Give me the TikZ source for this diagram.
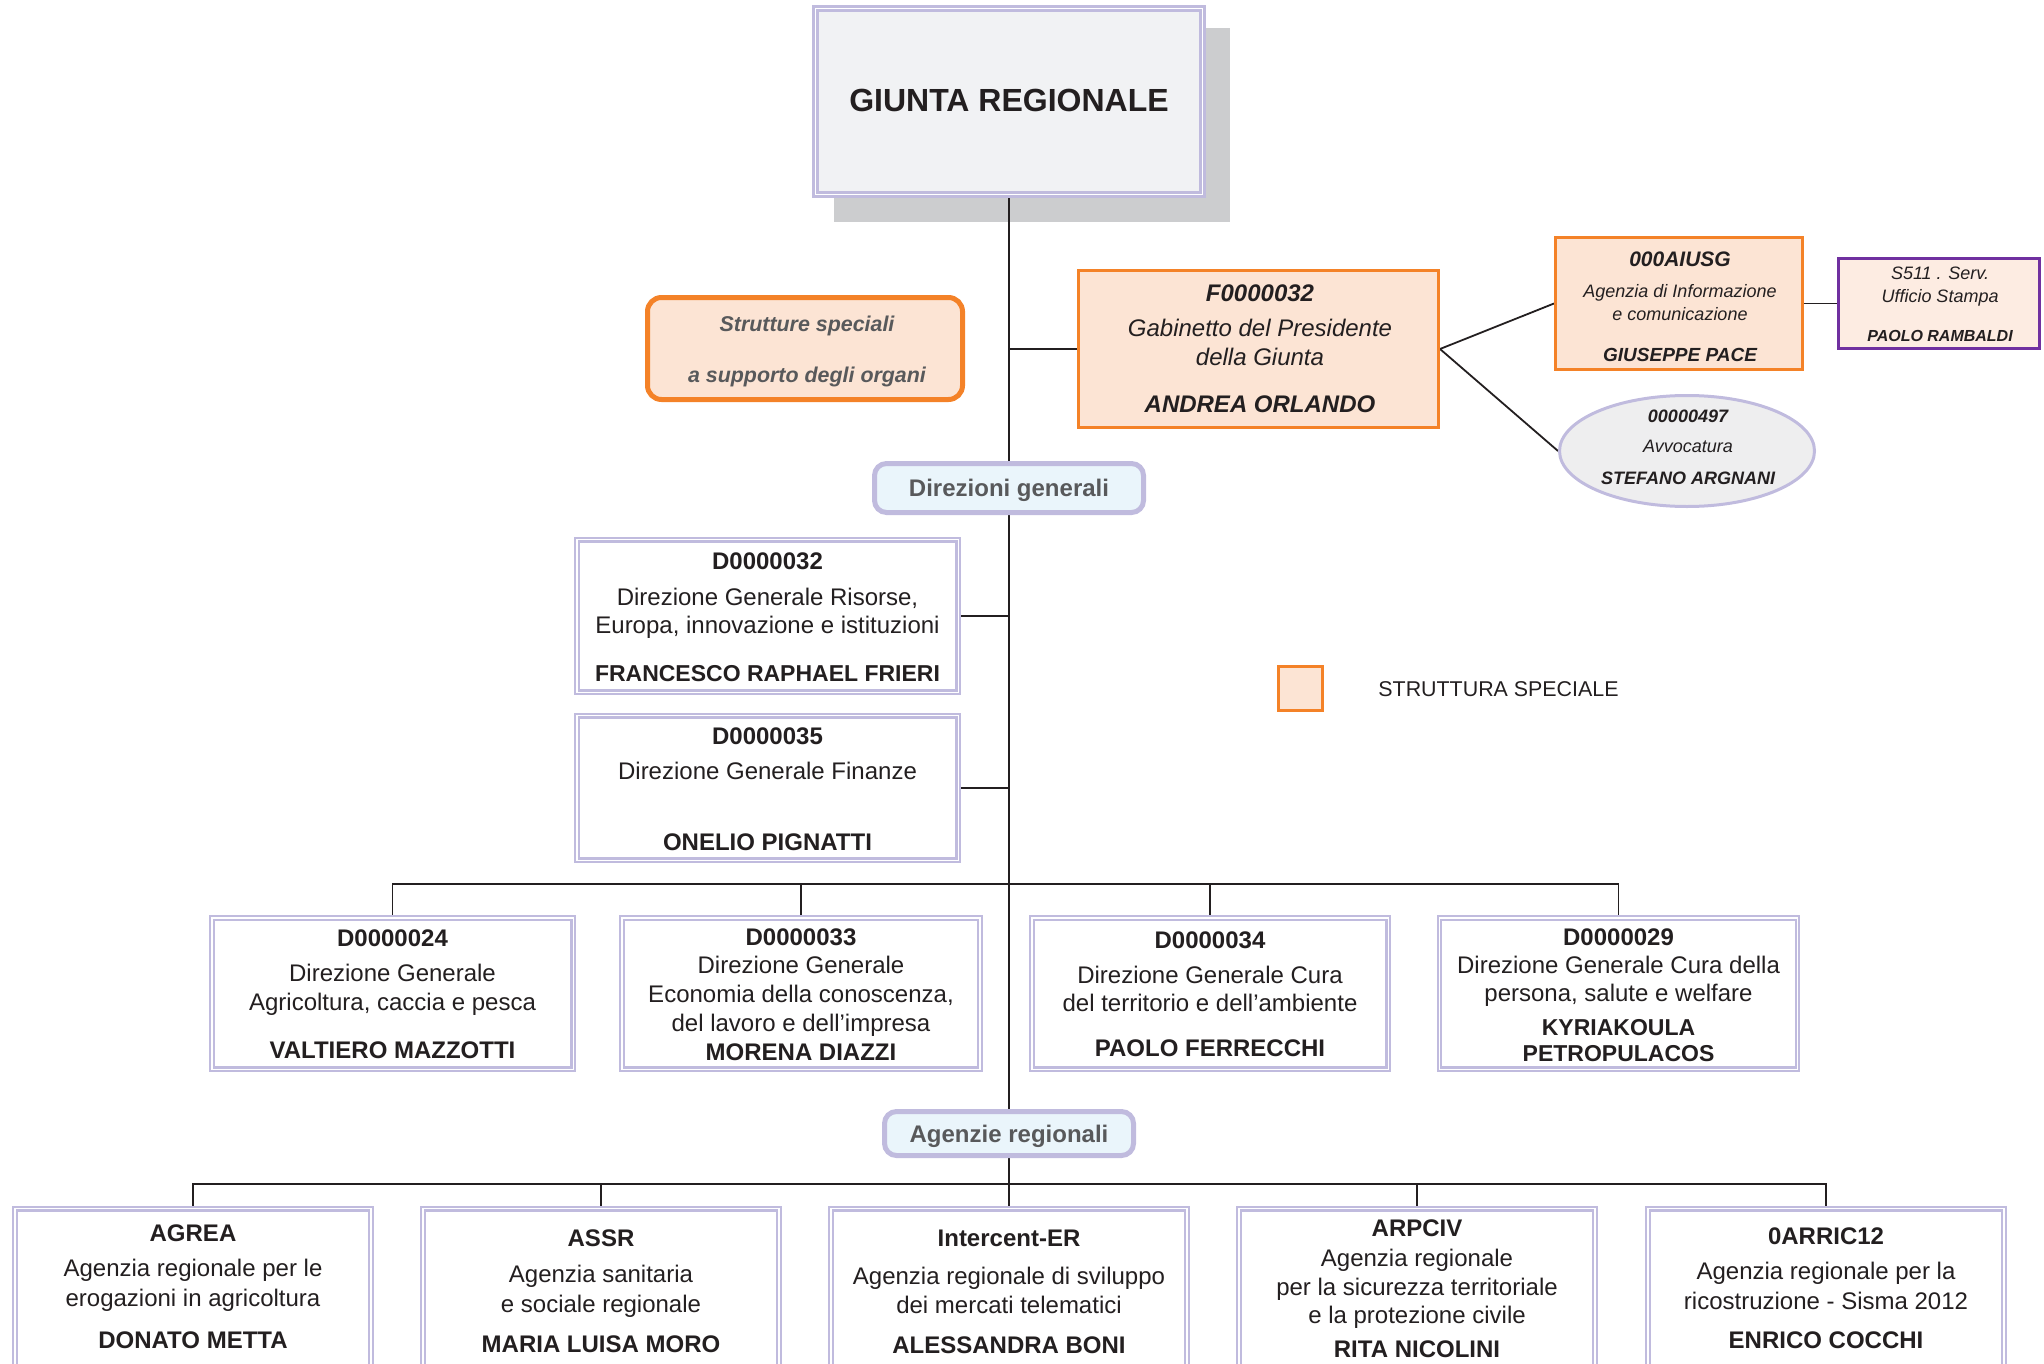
\documentclass[tikz,border=0pt]{standalone}
\usepackage{fontspec}
\setmainfont{Liberation Sans}
\usetikzlibrary{shapes.geometric,backgrounds}
\definecolor{ink}{RGB}{35,31,32}
\definecolor{greyt}{RGB}{88,89,91}
\definecolor{lavc}{RGB}{192,187,222}
\definecolor{shadowc}{RGB}{204,205,207}
\definecolor{giuntac}{RGB}{241,242,244}
\definecolor{peach}{RGB}{252,228,212}
\definecolor{peachl}{RGB}{253,236,226}
\definecolor{orangec}{RGB}{244,130,40}
\definecolor{purplec}{RGB}{112,48,160}
\definecolor{bluel}{RGB}{234,245,251}
\definecolor{ellc}{RGB}{238,238,239}
\newcommand\myfs[1]{\fontsize{#1}{#1}\selectfont}
\begin{document}
\begin{tikzpicture}[x=0.5pt,y=-0.5pt,
  conn/.style={draw=ink, line width=0.9pt},
  lavbox/.style={draw=lavc, double=white, line width=1.1pt, double distance=0.6pt, fill=white, inner sep=0pt, rectangle},
  orbox/.style={draw=orangec, line width=1.5pt, fill=peach, inner sep=0pt, rectangle},
  txt/.style={inner sep=0pt, text depth=0pt, text=ink},
  s16/.style={txt, font=\myfs{16}, text height=11.5pt},
  s12/.style={txt, font=\myfs{12}, text height=8.6pt},
  s115/.style={txt, font=\myfs{11.5}, text height=8.3pt},
  s107/.style={txt, font=\myfs{10.7}, text height=7.7pt},
  s105/.style={txt, font=\myfs{10.5}, text height=7.5pt},
  s95/.style={txt, font=\myfs{9.5}, text height=6.8pt},
  s9/.style={txt, font=\myfs{9}, text height=6.5pt},
  s8/.style={txt, font=\myfs{8}, text height=5.8pt},
  botbox/.style={lavbox, minimum width=178pt, minimum height=110.8pt},
  rowbox/.style={lavbox, minimum width=179pt, minimum height=75.6pt}
]
\useasboundingbox (0,0) rectangle (2044,1364);

% ---------- boxes ----------
\node[draw=lavc, double=white, line width=1.3pt, double distance=0.8pt, fill=giuntac, inner sep=0pt,
      minimum width=193.4pt, minimum height=93pt] (giunta) at (1009,101.5) {};
\node[draw=orangec, line width=2.5pt, fill=peach, rounded corners=7pt, inner sep=0pt,
      minimum width=157.5pt, minimum height=51pt] (strutt) at (805,348.5) {};
\node[orbox, minimum width=180pt, minimum height=78pt] (gab) at (1258.5,349) {};
\node[orbox, minimum width=123.5pt, minimum height=66pt] (aiusg) at (1679,303.5) {};
\node[draw=purplec, line width=1.5pt, fill=peachl, inner sep=0pt,
      minimum width=100.5pt, minimum height=45pt] (s511) at (1939,303.5) {};
\node[ellipse, draw=lavc, line width=1.5pt, fill=ellc, inner sep=0pt,
      minimum width=127.5pt, minimum height=55.5pt] (avv) at (1687,451) {};
\node[draw=lavc, line width=2.5pt, fill=bluel, rounded corners=6pt, inner sep=0pt,
      minimum width=134.5pt, minimum height=24.5pt] (dirgen) at (1009,488) {};
\node[lavbox, minimum width=190.6pt, minimum height=76.2pt] (d32) at (767.5,616) {};
\node[lavbox, minimum width=190.6pt, minimum height=72.2pt] (d35) at (767.5,788) {};
\node[rowbox, minimum width=180.6pt] (d24) at (392.5,993.5) {};
\node[rowbox] (d33) at (801,993.5) {};
\node[rowbox, minimum width=178.1pt] (d34) at (1210,993.5) {};
\node[rowbox] (d29) at (1618.5,993.5) {};
\node[draw=lavc, line width=2.5pt, fill=bluel, rounded corners=6pt, inner sep=0pt,
      minimum width=124.5pt, minimum height=22pt] (agenz) at (1009,1133.5) {};
\node[botbox] (agrea) at (193,1319.6) {};
\node[botbox] (assr) at (601,1319.6) {};
\node[botbox] (interc) at (1009,1319.6) {};
\node[botbox] (arpciv) at (1417,1319.6) {};
\node[botbox] (arric) at (1826,1319.6) {};
\node[orbox, minimum width=22pt, minimum height=22pt] (legsq) at (1300.5,688.5) {};

% ---------- shadow and connectors ----------
\begin{scope}[on background layer]
\fill[shadowc] (834,28) rectangle (1230,222);
\draw[conn] (giunta.south) -- (dirgen.north);
\draw[conn] (dirgen.south) -- (agenz.north);
\draw[conn] (agenz.south) -- (interc.north);
\draw[conn] (gab.west) -- (gab.west -| giunta.south);
\draw[conn] (gab.east) -- (aiusg.west);
\draw[conn] (gab.east) -- (avv.west);
\draw[conn] (aiusg.east) -- (s511.west);
\draw[conn] (d32.east) -- (d32.east -| dirgen.south);
\draw[conn] (d35.east) -- (d35.east -| dirgen.south);
\coordinate (busd) at (1009,884);
\draw[conn] (d24.north) -- (d24.north |- busd) -- (d29.north |- busd) -- (d29.north);
\draw[conn] (d33.north) -- (d33.north |- busd);
\draw[conn] (d34.north) -- (d34.north |- busd);
\coordinate (busa) at (1009,1184);
\draw[conn] (agrea.north) -- (agrea.north |- busa) -- (arric.north |- busa) -- (arric.north);
\draw[conn] (assr.north) -- (assr.north |- busa);
\draw[conn] (arpciv.north) -- (arpciv.north |- busa);
\end{scope}

% ---------- texts ----------
\node[s16] (tg) at (1009,100) {\textbf{GIUNTA REGIONALE}};

\node[s107, text=greyt] (ts1) at (807,324) {\bfseries\itshape Strutture speciali};
\node[s107, text=greyt] (ts2) at (807,375) {\bfseries\itshape a supporto degli organi};

\node[s12] (tgb1) at (1260,293) {\bfseries\itshape F0000032};
\node[s12] (tgb2) at (1260,328) {\itshape Gabinetto del Presidente};
\node[s12] (tgb3) at (1260,357) {\itshape della Giunta};
\node[s12] (tgb4) at (1260,404) {\bfseries\itshape ANDREA ORLANDO};

\node[s105] (ta1) at (1680,259) {\bfseries\itshape 000AIUSG};
\node[s9] (ta2) at (1680,291) {\itshape Agenzia di Informazione};
\node[s9] (ta3) at (1680,314) {\itshape e comunicazione};
\node[s95] (ta4) at (1680,355) {\bfseries\itshape GIUSEPPE PACE};

\node[s9] (tp1) at (1940,273) {\itshape S511 . Serv.};
\node[s9] (tp2) at (1940,296) {\itshape Ufficio Stampa};
\node[s8] (tp3) at (1940,336) {\bfseries\itshape PAOLO RAMBALDI};

\node[s9] (tv1) at (1688,416) {\bfseries\itshape 00000497};
\node[s9] (tv2) at (1688,446) {\itshape Avvocatura};
\node[s9] (tv3) at (1688,478) {\bfseries\itshape STEFANO ARGNANI};

\node[s12, text=greyt] (tdg) at (1009,488) {\textbf{Direzioni generali}};

\node[s12] (t321) at (767.5,561) {\textbf{D0000032}};
\node[s12] (t322) at (767.5,597) {Direzione Generale Risorse,};
\node[s12] (t323) at (767.5,625) {Europa, innovazione e istituzioni};
\node[s115] (t324) at (767.5,673) {\textbf{FRANCESCO RAPHAEL FRIERI}};

\node[s12] (t351) at (767.5,736) {\textbf{D0000035}};
\node[s12] (t352) at (767.5,771) {Direzione Generale Finanze};
\node[s12] (t353) at (767.5,842) {\textbf{ONELIO PIGNATTI}};

\node[s12] (t241) at (392.5,938) {\textbf{D0000024}};
\node[s12] (t242) at (392.5,973) {Direzione Generale};
\node[s12] (t243) at (392.5,1002) {Agricoltura, caccia e pesca};
\node[s12] (t244) at (392.5,1050) {\textbf{VALTIERO MAZZOTTI}};

\node[s12] (t331) at (801,937) {\textbf{D0000033}};
\node[s12] (t332) at (801,965) {Direzione Generale};
\node[s12] (t333) at (801,994) {Economia della conoscenza,};
\node[s12] (t334) at (801,1023) {del lavoro e dell’impresa};
\node[s12] (t335) at (801,1052) {\textbf{MORENA DIAZZI}};

\node[s12] (t341) at (1210,940) {\textbf{D0000034}};
\node[s12] (t342) at (1210,975) {Direzione Generale Cura};
\node[s12] (t343) at (1210,1003) {del territorio e dell’ambiente};
\node[s12] (t344) at (1210,1048) {\textbf{PAOLO FERRECCHI}};

\node[s12] (t291) at (1618.5,937) {\textbf{D0000029}};
\node[s12] (t292) at (1618.5,965) {Direzione Generale Cura della};
\node[s12] (t293) at (1618.5,993) {persona, salute e welfare};
\node[s115] (t294) at (1618.5,1027) {\textbf{KYRIAKOULA}};
\node[s115] (t295) at (1618.5,1053) {\textbf{PETROPULACOS}};

\node[s12, text=greyt] (tar) at (1009,1134) {\textbf{Agenzie regionali}};

\node[s12] (tag1) at (193,1233) {\textbf{AGREA}};
\node[s12] (tag2) at (193,1268) {Agenzia regionale per le};
\node[s12] (tag3) at (193,1298) {erogazioni in agricoltura};
\node[s12] (tag4) at (193,1340) {\textbf{DONATO METTA}};

\node[s12] (tas1) at (601,1238) {\textbf{ASSR}};
\node[s12] (tas2) at (601,1274) {Agenzia sanitaria};
\node[s12] (tas3) at (601,1304) {e sociale regionale};
\node[s12] (tas4) at (601,1344) {\textbf{MARIA LUISA MORO}};

\node[s12] (tin1) at (1009,1238) {\textbf{Intercent-ER}};
\node[s12] (tin2) at (1009,1276) {Agenzia regionale di sviluppo};
\node[s12] (tin3) at (1009,1305) {dei mercati telematici};
\node[s12] (tin4) at (1009,1345) {\textbf{ALESSANDRA BONI}};

\node[s12] (tap1) at (1417,1228) {\textbf{ARPCIV}};
\node[s12] (tap2) at (1417,1258) {Agenzia regionale};
\node[s12] (tap3) at (1417,1287) {per la sicurezza territoriale};
\node[s12] (tap4) at (1417,1315) {e la protezione civile};
\node[s12] (tap5) at (1417,1349) {\textbf{RITA NICOLINI}};

\node[s12] (tri1) at (1826,1236) {\textbf{0ARRIC12}};
\node[s12] (tri2) at (1826,1271) {Agenzia regionale per la};
\node[s12] (tri3) at (1826,1301) {ricostruzione - Sisma 2012};
\node[s12] (tri4) at (1826,1340) {\textbf{ENRICO COCCHI}};

\node[s107, anchor=west] (tleg) at (1378,689) {STRUTTURA SPECIALE};
\end{tikzpicture}
\end{document}
